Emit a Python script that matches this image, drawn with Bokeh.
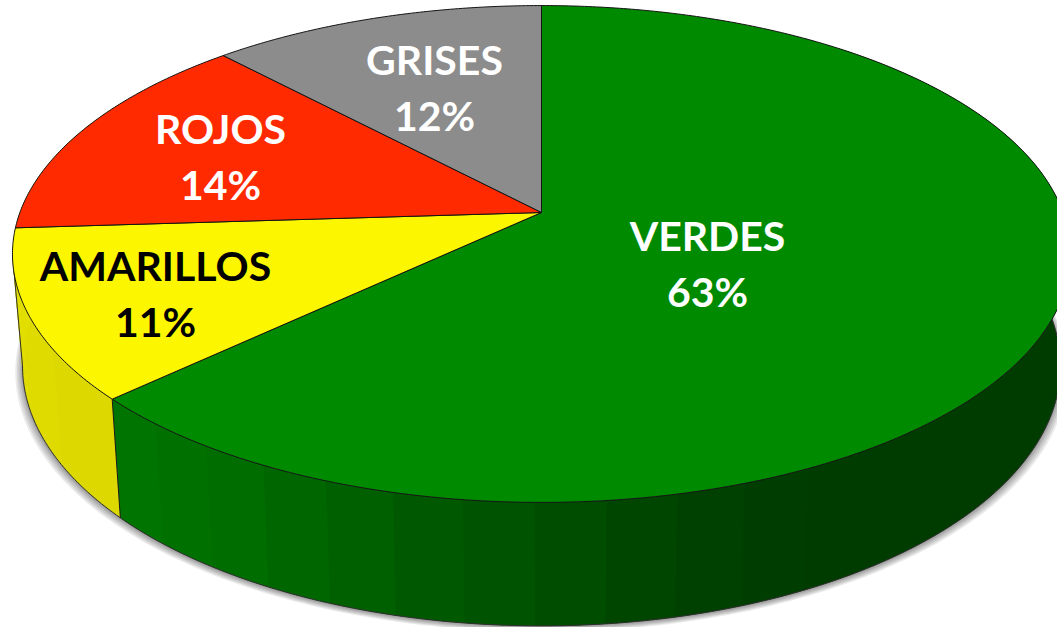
import numpy as np
from bokeh.plotting import figure
from bokeh.models import Range1d
from bokeh.core.properties import value
from bokeh.embed import file_html
from bokeh.resources import INLINE

# Data
categories = ["VERDES", "AMARILLOS", "ROJOS", "GRISES"]
shares = [63, 11, 14, 12]

# Styles
top_colors = {"VERDES": "#008a00", "AMARILLOS": "#fcf700", "ROJOS": "#ff2a00", "GRISES": "#8c8c8c"}
text_colors = {"VERDES": "white", "AMARILLOS": "black", "ROJOS": "white", "GRISES": "white"}
label_pos = {"VERDES": (707, 235, 41), "AMARILLOS": (155, 265, 41), "ROJOS": (220, 128, 41), "GRISES": (434, 59, 41)}
line_gap = 56

# Projection of the disc to the page (perspective)
CX, CY = 541.0, 212.0
TOP = dict(a=241.5, b=521.6, k=0.167, c=CY)
BOT = dict(a=252.7, b=511.7, k=0.167, c=322.0)
LEFT_TANGENT = 260.4


def project(theta_deg, plane):
    t = np.radians(theta_deg)
    u, v = np.sin(t), -np.cos(t)
    d = 1 - plane["k"] * v
    return CX + plane["b"] * u / d, plane["c"] + plane["a"] * v / d


p = figure(width=1057, height=627, output_backend="svg", toolbar_location=None,
           x_range=Range1d(0, 1057), y_range=Range1d(627, 0), min_border=0)
p.axis.visible = False
p.grid.visible = False
p.outline_line_color = None
p.background_fill_color = "white"
p.border_fill_color = "white"

ends = np.cumsum(shares) / np.sum(shares) * 360
starts = np.concatenate([[0], ends[:-1]])
arc = {c: (s, e) for c, s, e in zip(categories, starts, ends)}

# Soft shadow under the lower rim
th = np.linspace(0, 360, 361)
bx, by = project(th, BOT)
for grow, drop in [(1.014, 6), (1.011, 5), (1.008, 4), (1.005, 3), (1.003, 2), (1.001, 1)]:
    p.patch(CX + (bx - CX) * grow, by + drop, fill_color="black", fill_alpha=0.08, line_color=None)

# Side wall: green fades from left to right, yellow is nearly flat
g_s, g_e = arc["VERDES"]
t = np.linspace(g_e, 40, 200)
tx, ty = project(t, TOP)
lx, ly = project(t[::-1], BOT)
p.patch(np.r_[tx, lx], np.r_[ty, ly], fill_color="#003c00", line_color=None)

edges = np.arange(g_e, 125, -6.6)
xs, ys, cols = [], [], []
for a0, a1 in zip(edges[:-1], edges[1:]):
    t = np.linspace(a0, a1 - 0.5, 8)
    tx, ty = project(t, TOP)
    lx, ly = project(t[::-1], BOT)
    xs.append(np.r_[tx, lx]); ys.append(np.r_[ty, ly])
    mx = project((a0 + a1) / 2, TOP)[0]
    g = np.interp(mx, [110, 250, 400, 560, 720, 800], [118, 108, 92, 78, 64, 60])
    cols.append("#00%02x00" % int(g))
p.patches(xs, ys, fill_color=cols, line_color=None)

y_s, y_e = arc["AMARILLOS"]
edges = np.arange(y_s, 300, 1.0)
xs, ys, cols = [], [], []
for a0, a1 in zip(edges[:-1], edges[1:]):
    t = np.array([a0, a1 + 0.5])
    tx, ty = project(t, TOP)
    lx, ly = project(t[::-1], BOT)
    xs.append(np.r_[tx, lx]); ys.append(np.r_[ty, ly])
    cols.append("#dcd800" if a0 < y_s + 12 else "#dfdb00" if a0 < y_s + 24 else "#e2de00")
p.patches(xs, ys, fill_color=cols, line_color=None)

# Lower rim, left silhouette and wall edge
t = np.linspace(55, LEFT_TANGENT, 300)
lx, ly = project(t, BOT)
ex, ey = project(LEFT_TANGENT, TOP)
p.line(np.r_[lx, ex], np.r_[ly, ey], line_color="#303030", line_width=1)
tx, ty = project(g_e, TOP)
lx, ly = project(g_e, BOT)
p.line([tx, lx], [ty, ly], line_color="#1a1a1a", line_width=1)

# Top face
for c in categories:
    s, e = arc[c]
    t = np.linspace(s, e, max(int(e - s) * 2, 8))
    tx, ty = project(t, TOP)
    p.patch(np.r_[CX, tx], np.r_[CY, ty], fill_color=top_colors[c],
            line_color="#141414", line_width=1, line_join="round")

# Labels
for c, sh in zip(categories, shares):
    x, y, size = label_pos[c]
    p.text([x], [y], text=[c], text_color=text_colors[c], text_align="center",
           text_baseline="middle", text_font=value("Lato"), text_font_style="bold",
           text_font_size=f"{size}px")
    p.text([x], [y + line_gap], text=[f"{sh}%"], text_color=text_colors[c], text_align="center",
           text_baseline="middle", text_font=value("Lato"), text_font_style="bold",
           text_font_size=f"{size}px")

open("out.html", "w").write(file_html(p, INLINE))
